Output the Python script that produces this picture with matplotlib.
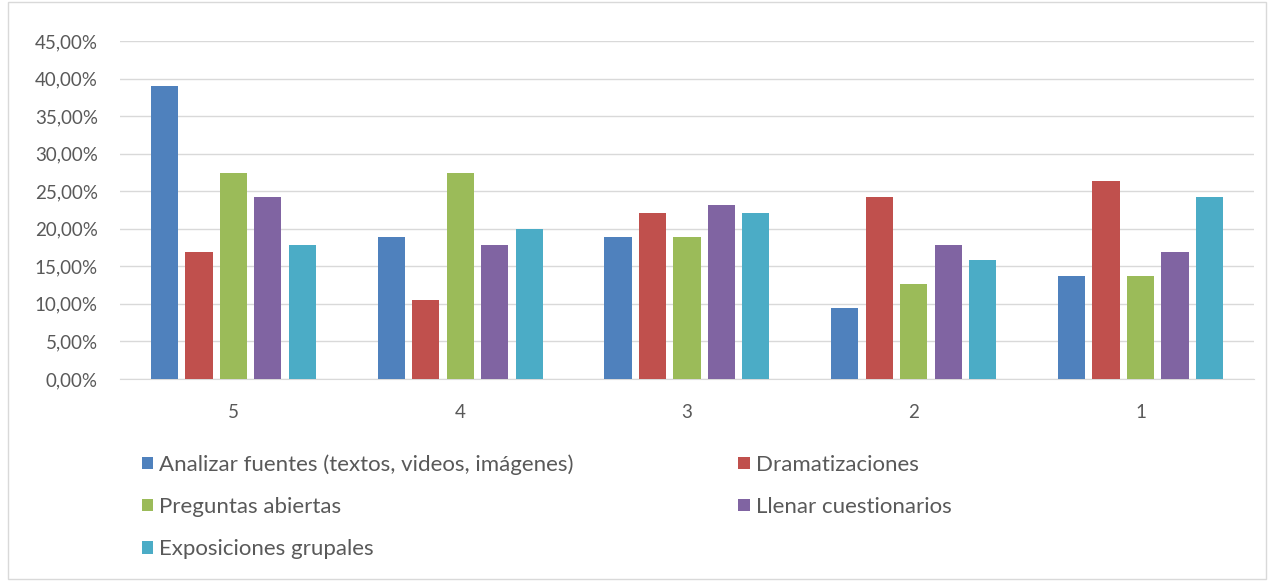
import matplotlib
matplotlib.use('Agg')
import matplotlib.pyplot as plt
import numpy as np

# Data (percent of answers per rating)
categories = ['5', '4', '3', '2', '1']
series_names = ['Analizar fuentes (textos, videos, imágenes)', 'Dramatizaciones',
                'Preguntas abiertas', 'Llenar cuestionarios', 'Exposiciones grupales']
analizar = [38.95, 18.95, 18.95, 9.47, 13.68]
dramatizaciones = [16.84, 10.53, 22.11, 24.21, 26.32]
preguntas = [27.37, 27.37, 18.95, 12.63, 13.68]
llenar = [24.21, 17.89, 23.16, 17.89, 16.84]
exposiciones = [17.89, 20.00, 22.11, 15.79, 24.21]
y_ticks = [0, 5, 10, 15, 20, 25, 30, 35, 40, 45]

colors = ['#4F81BD', '#C0504D', '#9BBB59', '#8064A2', '#4BACC6']
plt.rcParams['font.family'] = ['Lato', 'DejaVu Sans']

fig = plt.figure(figsize=(12.74, 5.81), dpi=100)
ax = fig.add_axes([0.0942, 0.3477, 0.890, 0.5818])

x = np.arange(len(categories))
pitch = 0.152
width = 0.12
bars = []
for i, (vals, col) in enumerate(zip([analizar, dramatizaciones, preguntas, llenar, exposiciones], colors)):
    b = ax.bar(x + (i - 2) * pitch, vals, width, color=col, zorder=3, label=series_names[i])
    bars.append(b)

ax.set_xlim(-0.5, len(categories) - 0.5)
ax.set_ylim(0, 45)
ax.set_yticks(y_ticks)
ax.yaxis.set_major_formatter(matplotlib.ticker.FuncFormatter(lambda v, p: ('%.2f%%' % v).replace('.', ',')))
ax.set_xticks(x)
ax.set_xticklabels(categories)
ax.grid(axis='y', color='#D9D9D9', linewidth=1, zorder=0)
for s in ['top', 'right', 'left']:
    ax.spines[s].set_visible(False)
ax.spines['bottom'].set_color('#D9D9D9')
ax.tick_params(axis='both', length=0, labelsize=13.5, colors='#595959')
ax.tick_params(axis='y', pad=16)
ax.tick_params(axis='x', pad=18)

# legend in Excel row order -> reorder for column-major fill
order = [0, 2, 4, 1, 3]
leg = fig.legend([bars[i] for i in order], [series_names[i] for i in order],
                 ncol=2, loc='upper left', bbox_to_anchor=(0.099, 0.245),
                 frameon=False, fontsize=16, handlelength=0.5, handleheight=0.5,
                 handletextpad=0.3, labelspacing=1.0, columnspacing=7.4,
                 borderpad=0.2)
for t in leg.get_texts():
    t.set_color('#595959')

# chart border
fig.patches.append(plt.Rectangle((0.006, 0.004), 0.988, 0.992, transform=fig.transFigure,
                                 fill=False, edgecolor='#D9D9D9', linewidth=1))

fig.savefig('out.png', dpi=100)
